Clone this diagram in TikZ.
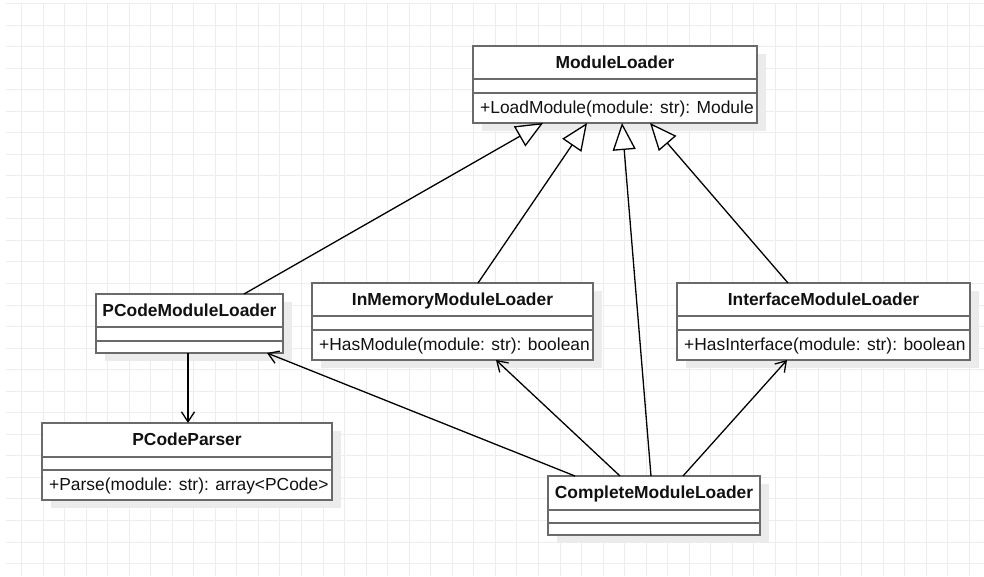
\documentclass[tikz,border=0pt]{standalone}
\usepackage{fontspec}
\setmainfont{Liberation Sans}
\usetikzlibrary{arrows.meta,fit}

\definecolor{gridc}{HTML}{EDEDED}
\definecolor{shadowc}{HTML}{EBEBEB}
\definecolor{boxc}{HTML}{6A6A6A}
\definecolor{inkc}{HTML}{111111}

\tikzset{
  gridline/.style={draw=gridc, line width=1pt},
  boxshadow/.style={fill=shadowc},
  classframe/.style={draw=boxc, line width=2pt, fill=white, inner sep=0pt, outer sep=0pt},
  classsep/.style={draw=boxc, line width=2pt},
  classtitle/.style={font=\fontsize{17.4}{20}\selectfont\bfseries, text=inkc, inner sep=0pt, anchor=base},
  classop/.style={font=\fontsize{17.4}{20}\selectfont, text=inkc, inner sep=0pt, anchor=base west},
  inherit/.style={draw=black, line width=1.3pt, -{Triangle[open, length=27pt, width=23pt, fill=white]}},
  uses/.style={draw=black, line width=1.3pt, -{Straight Barb[length=10pt, width=13pt]}},
}

% #1 name, #2 left, #3 top, #4 right, #5 title rule, #6 attribute rule, #7 bottom, #8 title
\newcommand\umlclass[8]{%
  \fill[boxshadow] (#2+9,#3+8) rectangle (#4+9,#7+8);
  \node[classframe, fit={(#2,#3) (#4,#7)}] (#1) {};
  \draw[classsep] (#2,#5) -- (#4,#5);
  \draw[classsep] (#2,#6) -- (#4,#6);
  \node[classtitle] (#1-title) at ({(#2+#4)/2},{(#3+#5)/2+5.8}) {#8};
}

\begin{document}
\begin{tikzpicture}[x=1pt, y=-1pt]
  \useasboundingbox (0,0) rectangle (984,576);

  % background grid
  \foreach \i in {0,...,44}
    \draw[gridline] ({21.5+21.54*\i},3) -- ({21.5+21.54*\i},576);
  \foreach \j in {0,...,26}
    \draw[gridline] (6,{3.5+21.54*\j}) -- (984,{3.5+21.54*\j});

  % classes
  \umlclass{ML}{473}{46}{757}{79}{93}{123}{ModuleLoader}
  \node[classop] (ML-op) at (480,113.5) {+LoadModule(module: str): Module};

  \umlclass{PML}{96}{294}{283}{327}{341}{353}{PCodeModuleLoader}

  \umlclass{IMML}{312}{283}{593}{316}{330}{360}{InMemoryModuleLoader}
  \node[classop] (IMML-op) at (319,350.5) {+HasModule(module: str): boolean};

  \umlclass{IML}{677}{283}{970}{316}{330}{360}{InterfaceModuleLoader}
  \node[classop] (IML-op) at (684,350.5) {+HasInterface(module: str): boolean};

  \umlclass{PCP}{42}{423}{332}{457}{470}{500}{PCodeParser}
  \node[classop] (PCP-op) at (49,490.5) {+Parse(module: str): array<PCode>};

  \umlclass{CML}{548}{476}{760}{510}{523}{535}{CompleteModuleLoader}

  % generalizations
  \draw[inherit] ([xshift=148pt]PML.north west) -- ([xshift=70pt]ML.south west);
  \draw[inherit] ([xshift=166pt]IMML.north west) -- ([xshift=114pt]ML.south west);
  \draw[inherit] ([xshift=103pt]CML.north west) -- ([xshift=149pt]ML.south west);
  \draw[inherit] ([xshift=111pt]IML.north west) -- ([xshift=177pt]ML.south west);

  % associations
  \draw[uses] ([xshift=92pt]PML.south west) -- ([xshift=146pt]PCP.north west);
  \draw[uses] ([xshift=27pt]CML.north west) -- ([xshift=171pt]PML.south west);
  \draw[uses] ([xshift=72pt]CML.north west) -- ([xshift=184pt]IMML.south west);
  \draw[uses] ([xshift=135pt]CML.north west) -- ([xshift=110pt]IML.south west);
\end{tikzpicture}
\end{document}
